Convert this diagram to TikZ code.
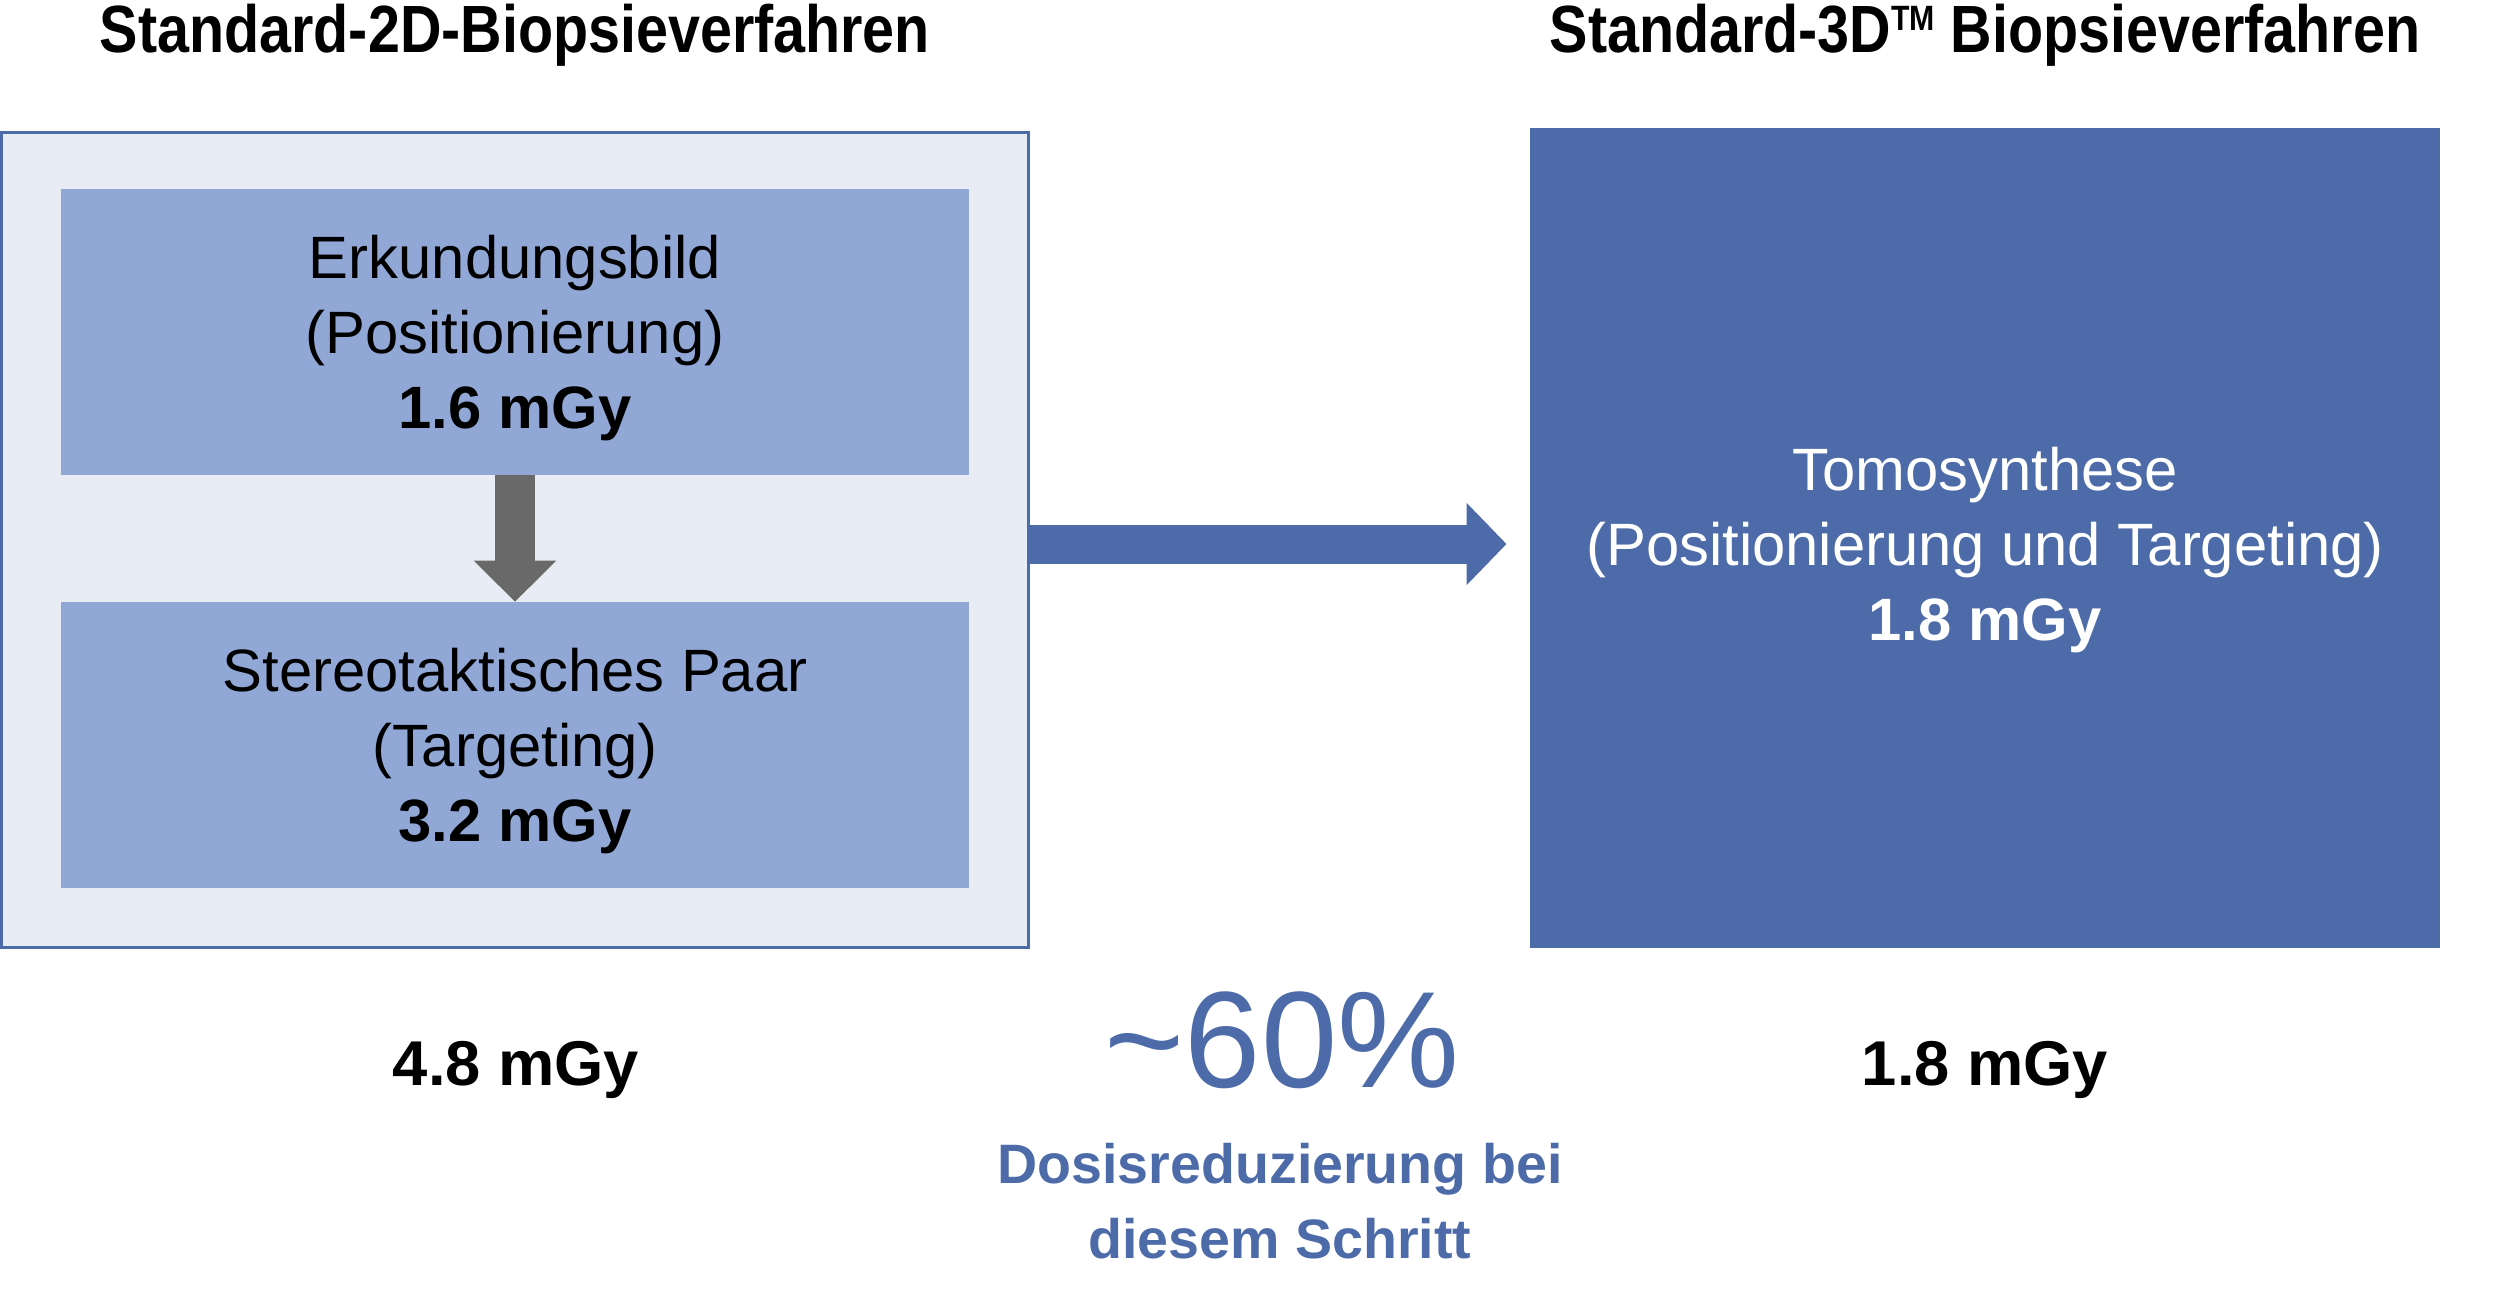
\documentclass[tikz,border=0pt]{standalone}
\usepackage{fontspec}
\setmainfont{Liberation Sans}
\newfontfamily\titlefont[FakeStretch=0.86]{Liberation Sans}
\usetikzlibrary{positioning, arrows.meta, calc}
\definecolor{dosblue}{HTML}{4D6BA8}
\definecolor{steplight}{HTML}{91A8D7}
\definecolor{framefill}{HTML}{E8ECF5}
\definecolor{arrgray}{HTML}{696969}
\newcommand{\lift}[1]{\rule{0pt}{#1}}
\newcommand{\tmark}{\raisebox{6.2pt}{\fontsize{10pt}{10pt}\selectfont TM}}

\begin{document}
\begin{tikzpicture}[x=0.01cm,y=-0.01cm,
  txt/.style={font=\fontsize{17pt}{21.3pt}\selectfont,align=center},
  stepbox/.style={txt,fill=steplight,minimum width=9.08cm,minimum height=2.85cm,inner sep=0pt},
  ttl/.style={font=\titlefont\bfseries\fontsize{19pt}{23pt}\selectfont,anchor=base},
  dose/.style={font=\bfseries\fontsize{18pt}{22pt}\selectfont,anchor=base}]
  \useasboundingbox (0,0) rectangle (2500,1314);
  % Titel
  \node[ttl](h2d) at (515,52){Standard-2D-Biopsieverfahren};
  \node[ttl](h3d) at (1985,52){Standard-3D\tmark\ Biopsieverfahren};
  % 2D-Ablauf
  \node[draw=dosblue,line width=0.03cm,fill=framefill,minimum width=10.26cm,minimum height=8.15cm](L) at (515,540){};
  \node[stepbox](e) at (515,332){\lift{0.56cm}Erkundungsbild\\(Positionierung)\\\textbf{1.6 mGy}};
  \node[stepbox](s) at (515,745){\lift{0.56cm}Stereotaktisches Paar\\(Targeting)\\\textbf{3.2 mGy}};
  \draw[arrgray,line width=0.4cm,-{Triangle[length=0.41cm,width=0.8cm]}] (e.south)--(s.north);
  % 3D-Ablauf
  \node[txt,fill=dosblue,text=white,minimum width=9.09cm,minimum height=8.19cm](t) at (1985,538){\lift{0.68cm}Tomosynthese\\(Positionierung und Targeting)\\\textbf{1.8 mGy}};
  \draw[dosblue,line width=0.39cm,shorten >=0.23cm,-{Triangle[length=0.4cm,width=0.8cm]}] ($(L.east)+(0,4)$)--($(L.east-|t.west)+(0,4)$);
  % Summen
  \node[dose](sum2d) at (516,1085){4.8 mGy};
  \node[dose](sum3d) at (1985,1085){1.8 mGy};
  \node[font=\fontsize{39pt}{44pt}\selectfont,text=dosblue,anchor=base](red) at (1282,1087){\textasciitilde 60\%};
  \node[font=\bfseries\fontsize{15.8pt}{21.3pt}\selectfont,text=dosblue,align=center,anchor=base](redtxt) at (1280,1258){Dosisreduzierung bei\\diesem Schritt};
\end{tikzpicture}
\end{document}
